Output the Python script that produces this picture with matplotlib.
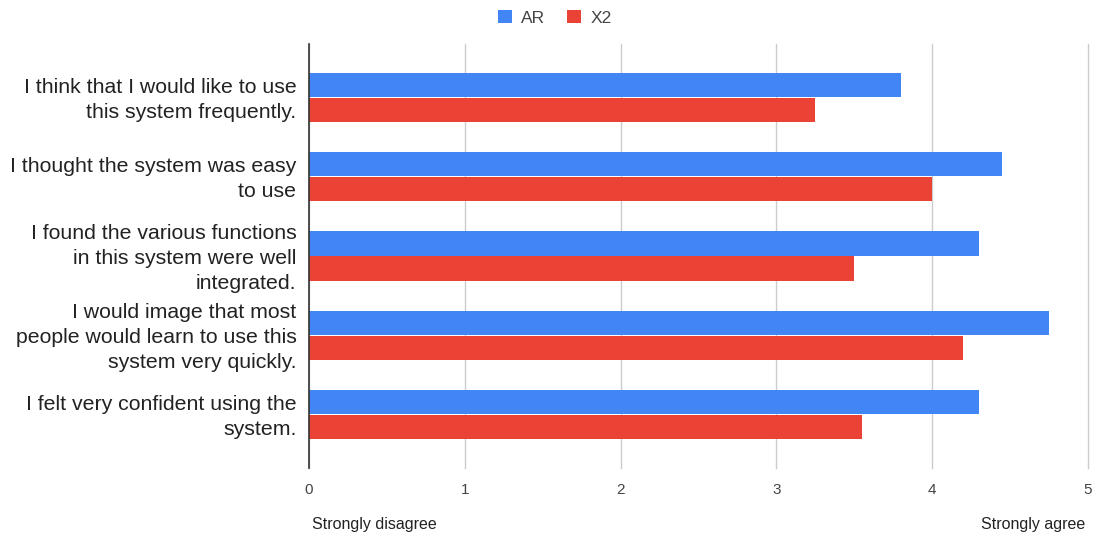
import matplotlib
matplotlib.use("Agg")
import matplotlib.pyplot as plt
import matplotlib.transforms as mtransforms
import numpy as np

plt.rcParams['font.family'] = ['Liberation Sans', 'DejaVu Sans']

statements = [
    "I think that I would like to use\nthis system frequently.",
    "I thought the system was easy\nto use",
    "I found the various functions\nin this system were well\nintegrated.",
    "I would image that most\npeople would learn to use this\nsystem very quickly.",
    "I felt very confident using the\nsystem.",
]
ar_scores = [3.8, 4.45, 4.3, 4.75, 4.3]
x2_scores = [3.25, 4.0, 3.5, 4.2, 3.55]
x_ticks = [0, 1, 2, 3, 4, 5]

blue = "#4285F4"
red = "#EA4335"

fig = plt.figure(figsize=(10.98, 5.38), dpi=100)
ax = fig.add_axes([309 / 1098, 1 - 468 / 538, (1088 - 309) / 1098, (468 - 44) / 538])

y = np.arange(len(statements))
h = 0.305
ax.barh(y - h / 2 - 0.005, ar_scores, height=h, color=blue, label="AR", zorder=3)
ax.barh(y + h / 2 + 0.005, x2_scores, height=h, color=red, label="X2", zorder=3)

ax.set_xlim(0, 5)
ax.set_ylim(len(statements) - 1 + 0.675, -0.675)
ax.set_xticks(x_ticks)
ax.set_xticklabels([str(t) for t in x_ticks], fontsize=11, color="#444444")
ax.set_yticks(y)
ax.set_yticklabels(statements, fontsize=15.3, color="#222222", linespacing=1.38)
ax.tick_params(axis="both", length=0)
ax.tick_params(axis="x", pad=11)
ax.tick_params(axis="y", pad=9)

# nudge category labels up a little
shift = mtransforms.ScaledTranslation(0, 2.5 / 100, fig.dpi_scale_trans)
for lbl in ax.get_yticklabels():
    lbl.set_transform(lbl.get_transform() + shift)

ax.grid(axis="x", color="#cccccc", linewidth=1, zorder=0)
for gl in ax.get_xgridlines():
    gl.set_clip_on(False)
for side in ["top", "right", "bottom"]:
    ax.spines[side].set_visible(False)
ax.spines["left"].set_color("#333333")
ax.spines["left"].set_linewidth(1.2)
ax.spines["left"].set_zorder(4)

fig.text(312 / 1098, 1 - 525 / 538, "Strongly disagree", fontsize=11.5, color="#222222",
         ha="left", va="center")
fig.text(1085 / 1098, 1 - 525 / 538, "Strongly agree", fontsize=11.5, color="#222222",
         ha="right", va="center")

leg = fig.legend(loc="center", bbox_to_anchor=(555 / 1098, 1 - 18 / 538), ncol=2,
                 frameon=False, fontsize=12.5, handlelength=0.8, handleheight=0.8,
                 handletextpad=0.55, columnspacing=1.27)
for t in leg.get_texts():
    t.set_color("#444444")

fig.savefig("out.png", dpi=100)
